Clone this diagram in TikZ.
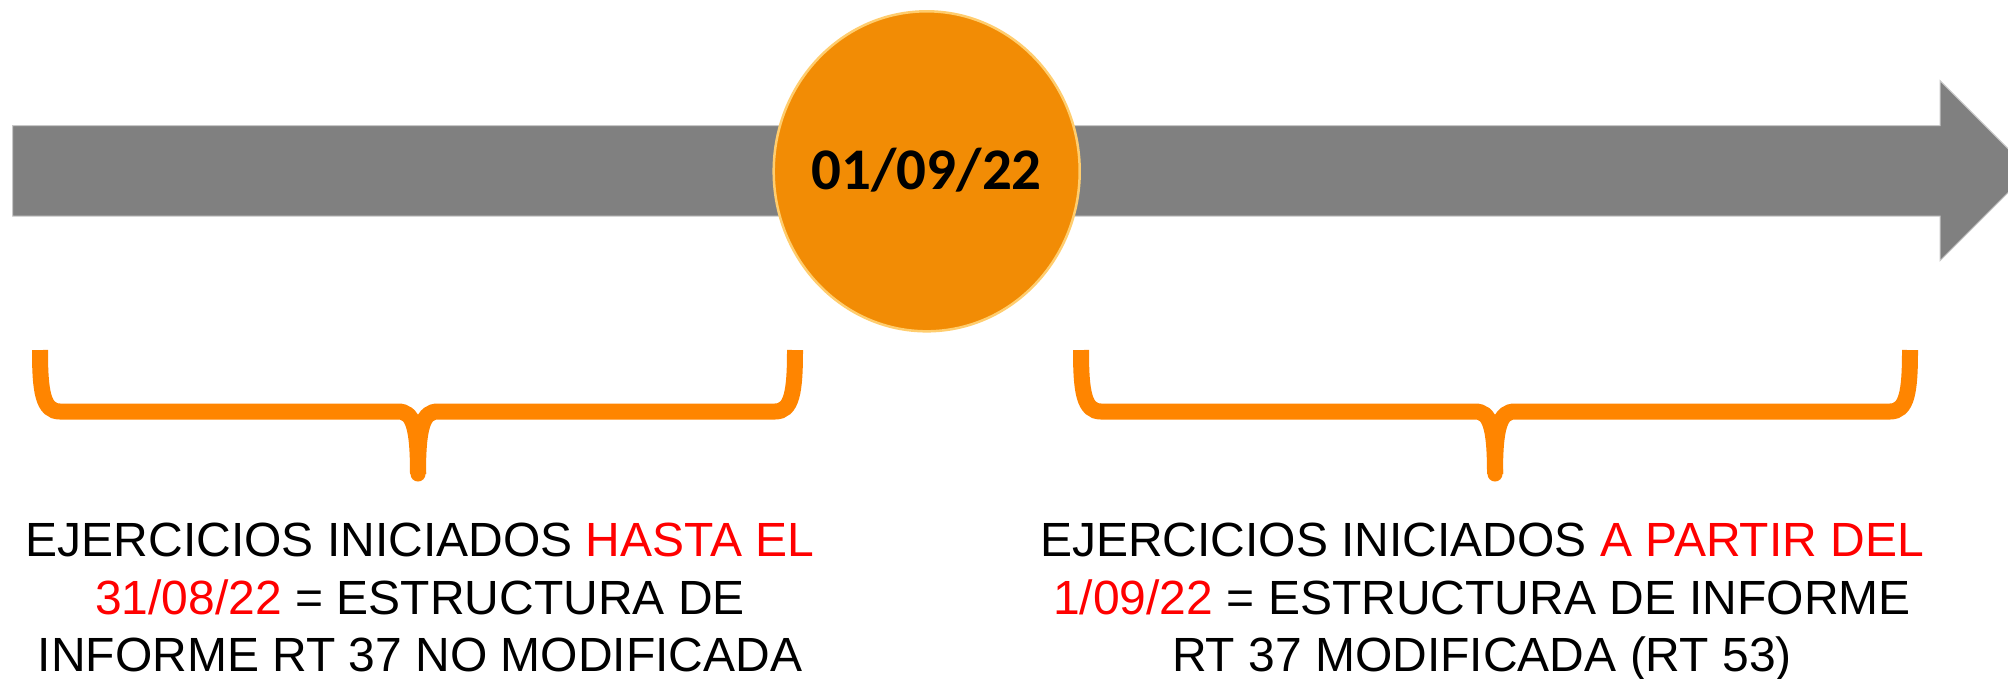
\documentclass[tikz,border=0pt]{standalone}
\usepackage{fontspec}
\setmainfont{Liberation Sans}
\newfontfamily\datefont{Carlito}
\usetikzlibrary{shapes.geometric}
\definecolor{arrowgray}{RGB}{128,128,128}
\definecolor{arrowedge}{RGB}{200,200,200}
\definecolor{circfill}{RGB}{242,140,5}
\definecolor{circedge}{RGB}{255,205,110}
\definecolor{braceor}{RGB}{255,133,0}
\begin{document}
\begin{tikzpicture}[x=1pt,y=-1pt,
  lbl/.style={anchor=base,inner sep=0pt,font=\fontsize{48}{58}\selectfont},
  bracestroke/.style={draw=braceor,line width=16pt,line cap=butt},
  datecircle/.style={ellipse,minimum width=306pt,minimum height=320pt,inner sep=0pt,
    fill=circfill,draw=circedge,line width=2.5pt},
  datetext/.style={inner sep=0pt,font=\datefont\bfseries\fontsize{59}{59}\selectfont}]
\useasboundingbox (0,0) rectangle (2008,678);
\fill[white] (0,0) rectangle (2008,678);
\clip (0,0) rectangle (2008,678);
% timeline arrow
\fill[arrowgray,draw=arrowedge,line width=1pt] (12.7,125.7) -- (1940,125.7) -- (1940,80.7)
  -- (2030,170.7) -- (1940,260.7) -- (1940,216) -- (12.7,216) -- cycle;
% date circle
\node[datecircle] (date) at (926.7,171.3) {};
\node[datetext] (datelbl) at ([yshift=1pt]date.center) {01/09/22};
% left brace
\draw[bracestroke] (40,350) .. controls (40,392) and (43,411.5) .. (60,411.5) -- (398,411.5)
  .. controls (413,411.5) and (418,426) .. (418,474);
\draw[bracestroke] (795,350) .. controls (795,392) and (792,411.5) .. (775,411.5) -- (438,411.5)
  .. controls (423,411.5) and (418,426) .. (418,474);
\fill[braceor] (418,474) circle (7.5);
% right brace
\draw[bracestroke] (1081,350) .. controls (1081,392) and (1084,411.5) .. (1101,411.5) -- (1475,411.5)
  .. controls (1490,411.5) and (1495,426) .. (1495,474);
\draw[bracestroke] (1910,350) .. controls (1910,392) and (1907,411.5) .. (1890,411.5) -- (1515,411.5)
  .. controls (1500,411.5) and (1495,426) .. (1495,474);
\fill[braceor] (1495,474) circle (7.5);
% texts
\node[lbl] (l1) at (420,556) {EJERCICIOS INICIADOS \textcolor{red}{HASTA EL}};
\node[lbl] (l2) at (420,614) {\textcolor{red}{31/08/22} = ESTRUCTURA DE};
\node[lbl] (l3) at (420,671) {INFORME RT 37 NO MODIFICADA};
\node[lbl] (r1) at (1482,556) {EJERCICIOS INICIADOS \textcolor{red}{A PARTIR DEL}};
\node[lbl] (r2) at (1482,614) {\textcolor{red}{1/09/22} = ESTRUCTURA DE INFORME};
\node[lbl] (r3) at (1482,671) {RT 37 MODIFICADA (RT 53)};
\end{tikzpicture}
\end{document}
